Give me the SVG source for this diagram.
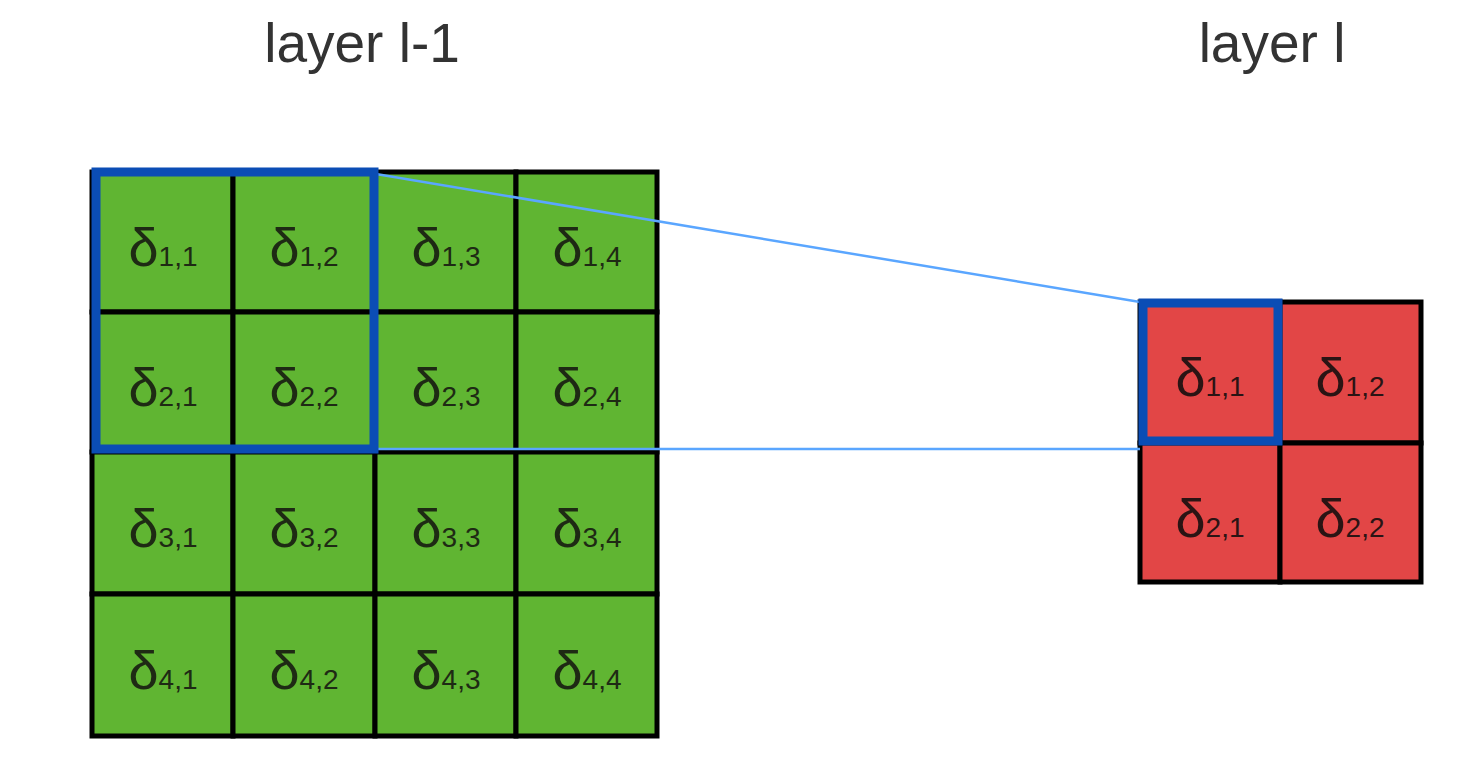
<svg xmlns="http://www.w3.org/2000/svg" width="1477" height="774" viewBox="0 0 1477 774">
<style>
.title{font-family:"Liberation Sans",Arial,sans-serif;font-size:55px;fill:#333;text-anchor:middle}
.lbl{font-family:"Liberation Sans",Arial,sans-serif;font-size:54px;fill:#1e2a14;text-anchor:middle}
.red .lbl{fill:#2a1414}
.sub{font-size:28px}
.g{fill:#60b532;stroke:#000;stroke-width:5}
.r{fill:#e24646;stroke:#000;stroke-width:5}
.sel{fill:none;stroke:#0b4db5;stroke-width:9}
.conn{stroke:#5aa6ff;stroke-width:2.5;fill:none}
</style>
<rect width="1477" height="774" fill="#fff"/>
<text class="title" x="362" y="62">layer l-1</text>
<text class="title" x="1272" y="62">layer l</text>
<g id="layer-l-1">
<g id="g11"><rect class="g" x="92" y="172" width="141" height="140"/><text class="lbl" x="163" y="266">δ<tspan class="sub">1,1</tspan></text></g>
<g id="g12"><rect class="g" x="233" y="172" width="142" height="140"/><text class="lbl" x="304" y="266">δ<tspan class="sub">1,2</tspan></text></g>
<g id="g13"><rect class="g" x="375" y="172" width="141" height="140"/><text class="lbl" x="446" y="266">δ<tspan class="sub">1,3</tspan></text></g>
<g id="g14"><rect class="g" x="516" y="172" width="141" height="140"/><text class="lbl" x="587" y="266">δ<tspan class="sub">1,4</tspan></text></g>
<g id="g21"><rect class="g" x="92" y="312" width="141" height="140"/><text class="lbl" x="163" y="406">δ<tspan class="sub">2,1</tspan></text></g>
<g id="g22"><rect class="g" x="233" y="312" width="142" height="140"/><text class="lbl" x="304" y="406">δ<tspan class="sub">2,2</tspan></text></g>
<g id="g23"><rect class="g" x="375" y="312" width="141" height="140"/><text class="lbl" x="446" y="406">δ<tspan class="sub">2,3</tspan></text></g>
<g id="g24"><rect class="g" x="516" y="312" width="141" height="140"/><text class="lbl" x="587" y="406">δ<tspan class="sub">2,4</tspan></text></g>
<g id="g31"><rect class="g" x="92" y="452" width="141" height="142"/><text class="lbl" x="163" y="547">δ<tspan class="sub">3,1</tspan></text></g>
<g id="g32"><rect class="g" x="233" y="452" width="142" height="142"/><text class="lbl" x="304" y="547">δ<tspan class="sub">3,2</tspan></text></g>
<g id="g33"><rect class="g" x="375" y="452" width="141" height="142"/><text class="lbl" x="446" y="547">δ<tspan class="sub">3,3</tspan></text></g>
<g id="g34"><rect class="g" x="516" y="452" width="141" height="142"/><text class="lbl" x="587" y="547">δ<tspan class="sub">3,4</tspan></text></g>
<g id="g41"><rect class="g" x="92" y="594" width="141" height="142"/><text class="lbl" x="163" y="689">δ<tspan class="sub">4,1</tspan></text></g>
<g id="g42"><rect class="g" x="233" y="594" width="142" height="142"/><text class="lbl" x="304" y="689">δ<tspan class="sub">4,2</tspan></text></g>
<g id="g43"><rect class="g" x="375" y="594" width="141" height="142"/><text class="lbl" x="446" y="689">δ<tspan class="sub">4,3</tspan></text></g>
<g id="g44"><rect class="g" x="516" y="594" width="141" height="142"/><text class="lbl" x="587" y="689">δ<tspan class="sub">4,4</tspan></text></g>
</g>
<g id="layer-l" class="red">
<g id="r11"><rect class="r" x="1140" y="302" width="140" height="141"/><text class="lbl" x="1210" y="396">δ<tspan class="sub">1,1</tspan></text></g>
<g id="r12"><rect class="r" x="1280" y="302" width="141" height="141"/><text class="lbl" x="1350" y="396">δ<tspan class="sub">1,2</tspan></text></g>
<g id="r21"><rect class="r" x="1140" y="443" width="140" height="139"/><text class="lbl" x="1210" y="537">δ<tspan class="sub">2,1</tspan></text></g>
<g id="r22"><rect class="r" x="1280" y="443" width="141" height="139"/><text class="lbl" x="1350" y="537">δ<tspan class="sub">2,2</tspan></text></g>
</g>
<g id="connectors">
<line class="conn" x1="376" y1="174" x2="1140" y2="302"/>
<line class="conn" x1="376" y1="449" x2="1140" y2="449"/>
</g>
<rect id="sel-l-1" class="sel" x="96" y="172" width="278" height="277"/>
<rect id="sel-l" class="sel" x="1143" y="303" width="135" height="138"/>
</svg>
